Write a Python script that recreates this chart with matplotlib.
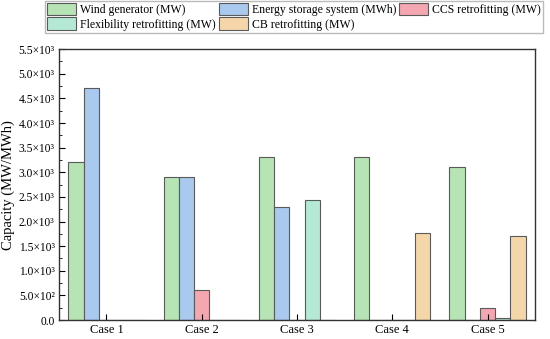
import numpy as np
import matplotlib.pyplot as plt
from matplotlib.ticker import AutoMinorLocator

plt.rcParams['font.family'] = ['Liberation Serif', 'DejaVu Serif']

cases = ['Case 1', 'Case 2', 'Case 3', 'Case 4', 'Case 5']
series = ['Wind generator (MW)', 'Energy storage system (MWh)', 'CCS retrofitting (MW)',
          'Flexibility retrofitting (MW)', 'CB retrofitting (MW)']
wind = [3200, 2900, 3300, 3300, 3100]
storage = [4720, 2910, 2290, 0, 0]
ccs = [0, 600, 0, 0, 250]
flex = [0, 0, 2440, 0, 50]
cb = [0, 0, 0, 1760, 1700]
ytick_vals = [0, 500, 1000, 1500, 2000, 2500, 3000, 3500, 4000, 4500, 5000, 5500]
ytick_labels = ['0.0', '5.0×10²'] + [f'{v/1000:.1f}×10³' for v in ytick_vals[2:]]

colors = ['#b7e4b4', '#a9c9ee', '#f4a6b1', '#b4e9d6', '#f5d6a9']

fig = plt.figure(figsize=(5.5, 3.39), dpi=100)
ax = fig.add_axes([0.107, 0.056, 0.866, 0.799])

x = np.arange(1, len(cases) + 1)
w = 0.16
data = [wind, storage, ccs, flex, cb]
handles = []
for i, (vals, c, lab) in enumerate(zip(data, colors, series)):
    h = ax.bar(x + (i - 2) * w, vals, width=w, color=c, edgecolor='#5a5a5a',
               linewidth=0.8, label=lab)
    handles.append(h)

ax.set_xlim(0.5, 5.5)
ax.set_ylim(0, 5500)
ax.set_xticks(x)
ax.set_xticklabels(cases, fontsize=9)
ax.set_yticks(ytick_vals)
ax.set_yticklabels(ytick_labels, fontsize=8.3)
ax.yaxis.set_minor_locator(AutoMinorLocator(2))
ax.tick_params(axis='both', which='both', direction='in')
ax.tick_params(axis='y', which='major', length=4, pad=3)
ax.tick_params(axis='y', which='minor', length=2)
ax.tick_params(axis='x', length=4, pad=3)
for s in ax.spines.values():
    s.set_linewidth(1.0)
    s.set_color('#333333')
ax.set_ylabel('Capacity (MW/MWh)', fontsize=10.5)
ax.yaxis.set_label_coords(-0.093, 0.5)

order = [0, 3, 1, 4, 2]
fig.legend([handles[i] for i in order], [series[i] for i in order],
           loc='upper left', bbox_to_anchor=(0.08, 1.0), ncol=3, fontsize=8.5,
           frameon=True, fancybox=False, edgecolor='#aaaaaa',
           handlelength=2.5, handleheight=1.25, handletextpad=0.3,
           columnspacing=0.25, labelspacing=0.1, borderpad=0.2, borderaxespad=0.05)

fig.savefig('out.png', dpi=100)
